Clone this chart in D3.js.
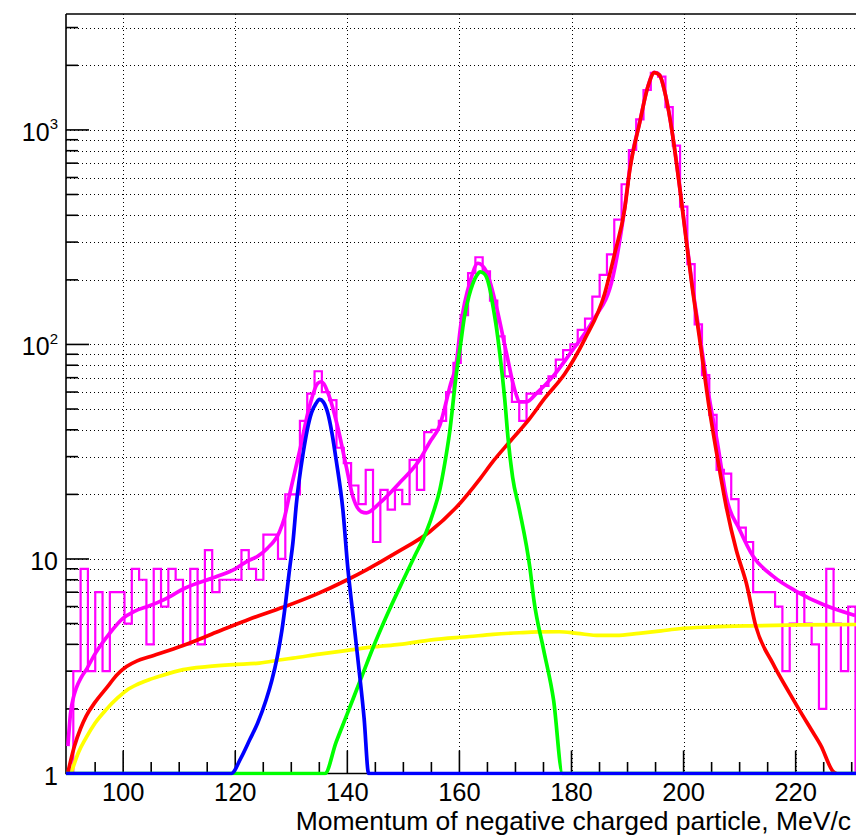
<!DOCTYPE html>
<html><head><meta charset="utf-8">
<script src="https://cdn.jsdelivr.net/npm/d3@7"></script>
<style>
body{margin:0;background:#fff}
svg{display:block}
text{font-family:"Liberation Sans",Arial,Helvetica,sans-serif;fill:#000}
</style>
</head><body>
<svg id="chart" width="856" height="836"></svg>
<script>
// ---------------- data ----------------
const binStart = 89.8;
const binWidth = 1.3044;
const counts = [
  1, 3, 9, 3, 7, 3, 7, 7, 5, 9,
  8, 4, 9, 6, 9, 8, 4, 9, 4, 11,
  7, 8, 8, 8, 11, 9, 8, 13, 13, 10,
  20, 20, 44, 59, 75, 60, 55, 33, 28, 22,
  18, 26, 12, 21, 17, 21, 18, 29, 21, 39,
  40, 44, 60, 82, 137, 215, 255, 219, 160, 109,
  71, 54, 44, 59, 59, 64, 71, 85, 94, 100,
  117, 132, 167, 211, 263, 382, 558, 806, 1120, 1535,
  1847, 1770, 1277, 845, 439, 237, 124, 72, 47, 26,
  25, 19, 14, 12, 7, 7, 7, 6, 3, 5,
  7, 5, 4, 2, 9, 5, 3, 6
];

// total fit (magenta)
const fitTotal = [
  [90.14,1.34],[90.6,1.9],[91.2,2.3],[91.63,2.5],[92.5,2.8],[93.42,3.05],[94.95,3.6],
  [97.58,4.5],[100,5.3],[102,5.7],[104.7,6.05],[107.2,6.45],[111,7.3],[116.8,8.3],
  [120,9.0],[122.1,9.75],[124,10.3],[125.7,11.2],[127.9,13.4],[128.7,15.3],[129.7,20],
  [131.5,32],[133.3,52],[134.75,66],[135.35,67],[136.8,57],[138.3,41],[139.8,27],
  [141,19.5],[142.5,16.6],[143.4,16.4],[145.75,18.2],[149.3,22.6],[152.9,29],
  [154.7,35],[156.5,42],[158.4,65],[159.45,82],[160.2,121],[162,200],[163.3,239],
  [164.8,219],[166.6,150],[168.4,91],[169.9,61],[170.8,54],[172,54],[173.7,59],
  [176.7,71],[180.3,95],[183.9,130],[187.4,207],[189.5,435],[190.4,660],[192.2,1095],
  [193.6,1585],[194.8,1855],[195.7,1805],[196.8,1445],[198,965],[199.2,570],
  [200.4,322],[201.6,185],[202.8,114],[204.6,56],[206.1,34],[207.6,19.5],[210,13.7],
  [212.4,10.3],[216,8.3],[220.1,7.07],[224.9,6.13],[230.6,5.45]
];

// main peak + tail component (red)
const fitMain = [
  [90.1,1.0],[91.3,1.34],[92.4,1.62],[93.4,1.85],[95,2.15],[97,2.5],[99,2.9],
  [100.6,3.15],[102.5,3.35],[104.7,3.5],[110.7,3.95],[116.6,4.55],[122.6,5.25],
  [128.5,5.95],[134.2,6.8],[140,8.0],[143.4,8.9],[148.75,10.7],[154.7,13.4],
  [160.2,18.3],[163.6,23.5],[166,28.5],[168.9,35],[172.5,45],[175.2,56],[178.8,73],[182.3,105],
  [185.9,172],[187.7,265],[189.5,430],[190.4,650],[192.2,1090],[193.6,1580],
  [194.8,1850],[195.7,1800],[196.8,1440],[198,960],[199.2,565],[200.4,317],
  [201.6,180],[202.8,109],[204.6,50],[206.1,29],[207.6,17.6],[209.4,11],[211.2,7.7],
  [212.9,4.85],[215.9,3.27],[218.9,2.37],[220.7,1.97],[222.8,1.6],[224.5,1.35],
  [226.7,1.02],[227.2,1.0]
];

// flat background (yellow)
const fitBackground = [
  [90.7,1.0],[92,1.25],[93.4,1.47],[95,1.72],[97,1.99],[99,2.25],[100.6,2.44],
  [102.5,2.6],[104.7,2.74],[106.5,2.84],[110.7,3.05],[115,3.15],[119.6,3.22],
  [124.3,3.27],[128.5,3.4],[130.3,3.45],[135,3.6],[140,3.75],[145,3.9],[149.3,4.0],
  [155,4.2],[161.8,4.35],[166,4.45],[170.7,4.53],[174,4.57],[177.8,4.58],[181,4.5],
  [185,4.4],[188,4.4],[192,4.5],[196,4.62],[199.2,4.73],[205,4.82],[211.7,4.88],
  [220.7,4.93],[230.8,4.95]
];

// second peak (green)
const fitPeak2 = [
  [89.8,1],[136.0,1],[138,1.4],[140,1.9],[142.5,2.8],[145,4.1],[147.5,5.8],[150,8.0],
  [152,10.3],[154.1,13.4],[155.5,17],[156.5,21],[157.4,28],[158.2,38],[159.45,73],
  [160.2,100],[160.9,135],[161.7,168],[162.4,192],[163.1,210],[163.7,218],[164.3,215],
  [164.8,207],[165.4,183],[166,150],[166.6,120],[167.2,91],[168.1,55],[168.7,36],
  [169.5,24],[170.7,17],[172.6,9],[173.3,6.4],[175,3.8],[176.8,2.2],[178.4,1.0],
  [230.8,1]
];

// first peak (blue)
const fitPeak1 = [
  [89.8,1],[119.3,1],[121,1.18],[122.6,1.44],[124,1.72],[125.5,2.2],[126.5,2.7],
  [127.5,3.5],[128.3,4.6],[129,6.3],[129.7,9.0],[130.3,12],[130.9,18],[132.1,31],
  [133.6,48],[134.4,53],[135.05,55.5],[135.7,54],[136.5,48],[137.3,38],[138,29],
  [139.2,17],[140.1,9],[141,5.5],[142,3.2],[143,1.8],[143.8,1],[230.8,1]
];

const xMajorTicks = [100,120,140,160,180,200,220];
const xMinorTicks = [95,105,110,115,125,130,135,145,150,155,165,170,175,185,190,195,205,210,215,225,230];
const yDecades = [1,10,100,1000];
const yTickLabels = [{b:"1",e:""},{b:"10",e:""},{b:"10",e:"2"},{b:"10",e:"3"}];
const xTitle = "Momentum of negative charged particle, MeV/c";

// ---------------- drawing ----------------
const svg = d3.select("#chart");
svg.append("rect").attr("width",856).attr("height",836).attr("fill","#fff");

const L = 66, R = 856.2, T = 14, B = 773.5;
const x = d3.scaleLinear().domain([89.8,230.8]).range([L,R]);
const y = d3.scaleLog().domain([1,3470]).range([B,T]);
const yc = v => y(Math.max(v,1));

const yAll = [];
yDecades.forEach(d => { for (let k=1;k<=9;k++){ const v=d*k; if (v<=3470) yAll.push(v);} });

svg.append("clipPath").attr("id","plot")
  .append("rect").attr("x",L).attr("y",T-2).attr("width",R-L).attr("height",B-T+4);

// grid
const grid = svg.append("g").attr("stroke","#000").attr("stroke-width",1)
  .attr("stroke-dasharray","1,3");
grid.selectAll("line.h").data(yAll.filter(v=>v>1)).join("line")
  .attr("x1",L).attr("x2",R).attr("y1",d=>Math.round(y(d))+0.5).attr("y2",d=>Math.round(y(d))+0.5);
grid.selectAll("line.v").data(xMajorTicks).join("line")
  .attr("y1",T).attr("y2",B).attr("x1",d=>Math.round(x(d))+0.5).attr("x2",d=>Math.round(x(d))+0.5);

// axes (frame left, top, bottom)
const ax = svg.append("g").attr("stroke","#000").attr("stroke-width",1.6).attr("fill","none");
ax.append("line").attr("x1",L).attr("x2",L).attr("y1",T).attr("y2",B+0.8);
ax.append("line").attr("x1",L).attr("x2",R).attr("y1",T).attr("y2",T);
ax.append("line").attr("x1",L).attr("x2",R).attr("y1",B).attr("y2",B);

ax.selectAll("line.yt").data(yAll).join("line")
  .attr("x1",L).attr("x2",d=>yDecades.includes(d)?L+23:L+12)
  .attr("y1",d=>y(d)).attr("y2",d=>y(d));
ax.selectAll("line.xM").data(xMajorTicks).join("line")
  .attr("x1",d=>x(d)).attr("x2",d=>x(d)).attr("y1",B).attr("y2",B-23);
ax.selectAll("line.xm").data(xMinorTicks).join("line")
  .attr("x1",d=>x(d)).attr("x2",d=>x(d)).attr("y1",B).attr("y2",B-11.5);

// histogram
const pts = [[x(binStart), B]];
counts.forEach((c,i) => {
  const x0 = x(binStart + i*binWidth), x1 = x(binStart + (i+1)*binWidth);
  pts.push([x0, yc(c)]); pts.push([x1, yc(c)]);
});
pts.push([x(binStart + counts.length*binWidth), B]);
const plot = svg.append("g").attr("clip-path","url(#plot)");
plot.append("path").attr("d", d3.line()(pts))
  .attr("fill","none").attr("stroke","#ff00ff").attr("stroke-width",2.2);

// fit curves
const curve = d3.line().x(d=>x(d[0])).y(d=>yc(d[1])).curve(d3.curveMonotoneX);
const drawFit = (data,color) => plot.append("path").attr("d",curve(data))
  .attr("fill","none").attr("stroke",color).attr("stroke-width",3.7)
  .attr("stroke-linejoin","round");
drawFit(fitTotal,"#ff00ff");
drawFit(fitBackground,"#ffff00");
drawFit(fitMain,"#ff0000");
drawFit(fitPeak2,"#00ff00");
drawFit(fitPeak1,"#0000ff");

// y labels
yDecades.forEach((d,i) => {
  const t = svg.append("text").attr("x",58).attr("y",y(d)+11)
    .attr("text-anchor","end").attr("font-size",25);
  t.append("tspan").text(yTickLabels[i].b);
  if (yTickLabels[i].e) t.append("tspan").attr("dy",-11.5).attr("font-size",15).text(yTickLabels[i].e);
});
svg.selectAll("text.xl").data(xMajorTicks).join("text")
  .attr("x",d=>x(d)).attr("y",800.5).attr("text-anchor","middle")
  .attr("font-size",25.5).text(d=>d);
svg.append("text").attr("x",851).attr("y",830).attr("text-anchor","end")
  .attr("font-size",26.5).text(xTitle);
</script>
</body></html>
